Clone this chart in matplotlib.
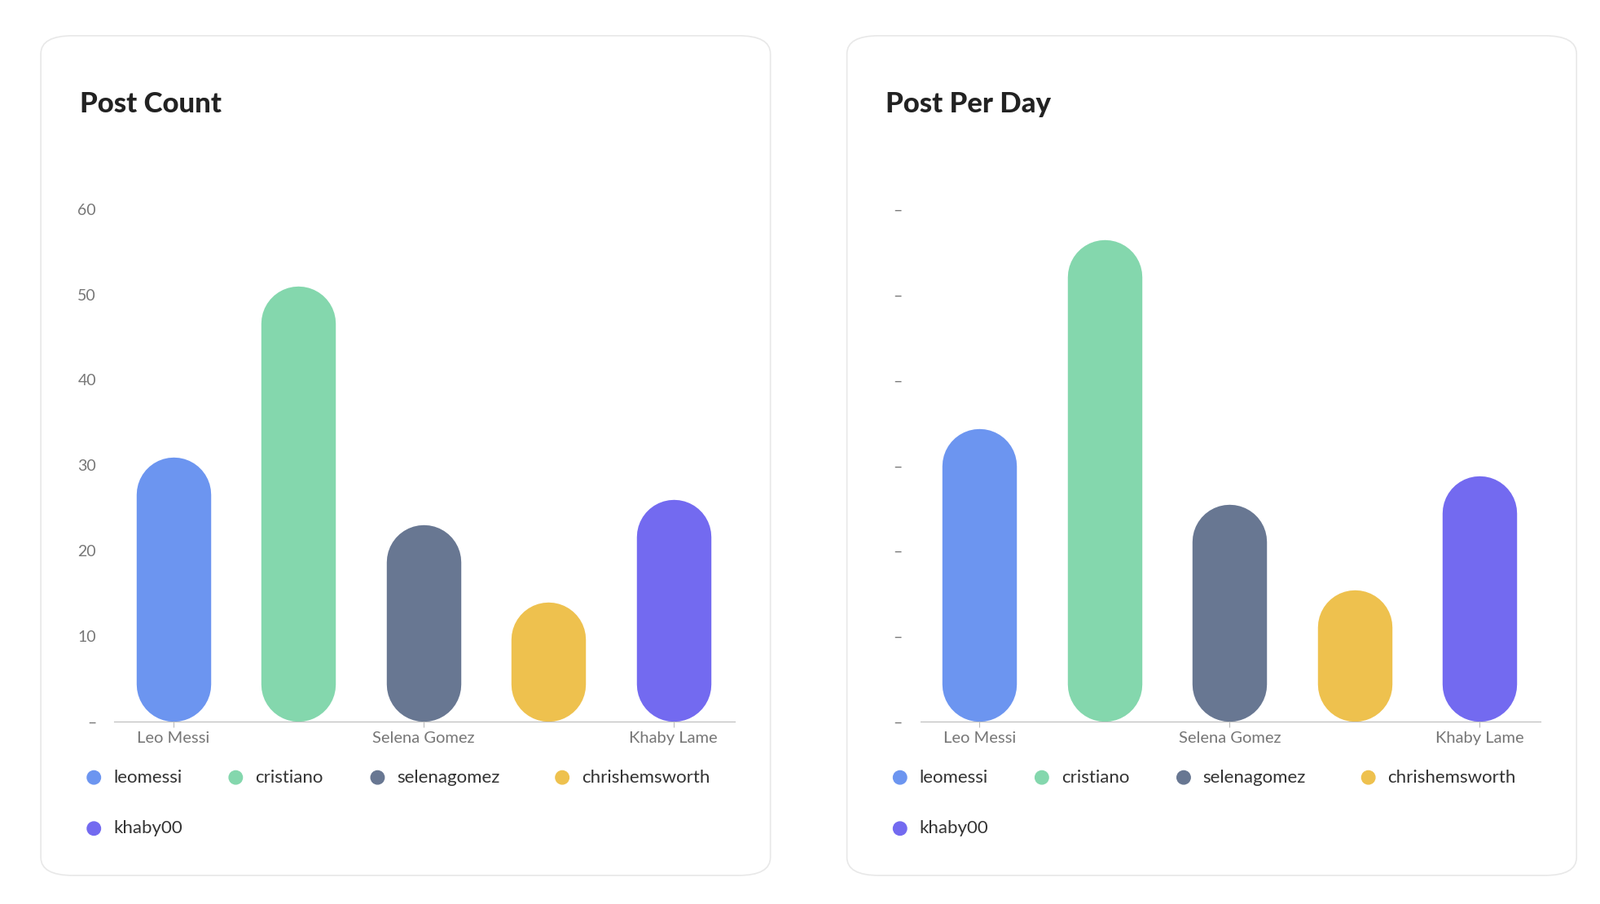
import matplotlib.pyplot as plt
from matplotlib.patches import FancyBboxPatch, Ellipse

# data
names = ["Leo Messi", "Cristiano", "Selena Gomez", "Chris Hemsworth", "Khaby Lame"]
handles = ["leomessi", "cristiano", "selenagomez", "chrishemsworth", "khaby00"]
post_count = [31, 51, 23, 14, 26]
post_per_day = [34.3, 56.4, 25.4, 15.4, 28.8]
colors = ["#6C95F0", "#84D7AD", "#687792", "#EEC14E", "#736AF0"]
yticks = [0, 10, 20, 30, 40, 50, 60]

W, H = 1568, 886  # reference pixel space
fig = plt.figure(figsize=(19.64, 11.1), dpi=100)
plt.rcParams["font.family"] = "Lato"

def fx(x): return x / W
def fy(y): return 1 - y / H

def panel(x0, title, values, show_labels):
    card = FancyBboxPatch((fx(x0), fy(858)), fx(715), (823) / H,
                          boxstyle="round,pad=0,rounding_size=0.02",
                          transform=fig.transFigure, facecolor="white",
                          edgecolor="#e8e8e8", linewidth=1.2, zorder=-5)
    fig.add_artist(card)
    fig.text(fx(x0 + 38), fy(102), title, fontsize=25, fontweight="heavy",
             color="#222222", va="center")
    ax = fig.add_axes([fx(x0 + 72), fy(707), fx(608), 502 / H], zorder=2)
    ax.set_xlim(-0.473, 4.49)
    ax.set_ylim(0, 60)
    r = 36.5 / (502 / 60)
    lw = 73 * 1.2526 / 100 * 72
    for i, v in enumerate(values):
        ax.plot([i, i], [r, v - r], color=colors[i], linewidth=lw,
                solid_capstyle="round", zorder=3)
    for s in ["top", "right", "left"]:
        ax.spines[s].set_visible(False)
    ax.spines["bottom"].set_color("#bbbbbb")
    ax.set_yticks(yticks)
    if show_labels:
        ax.set_yticklabels(["–"] + [str(t) for t in yticks[1:]])
    else:
        ax.set_yticklabels(["–"] * len(yticks))
    ax.tick_params(axis="y", length=0, labelsize=14, labelcolor="#777777", pad=16)
    ax.set_xticks([0, 2, 4])
    ax.set_xticklabels([names[0], names[2], names[4]])
    ax.tick_params(axis="x", length=5, color="#bbbbbb", labelsize=14.5,
                   labelcolor="#777777", pad=4)
    ax.patch.set_alpha(0)
    # legend
    pos = [(52, 762), (191, 762), (330, 762), (511, 762), (52, 812)]
    rad = 0.0042
    for (px, py), h, c in zip(pos, handles, colors):
        fig.add_artist(Ellipse((fx(x0 + px), fy(py)), 2 * rad, 2 * rad * 1964 / 1110,
                               color=c, transform=fig.transFigure, zorder=3))
        fig.text(fx(x0 + px + 19), fy(py), h, fontsize=16, color="#333333",
                 va="center")

panel(40, "Post Count", post_count, True)
panel(830, "Post Per Day", post_per_day, False)

fig.savefig("out.png", dpi=100)
